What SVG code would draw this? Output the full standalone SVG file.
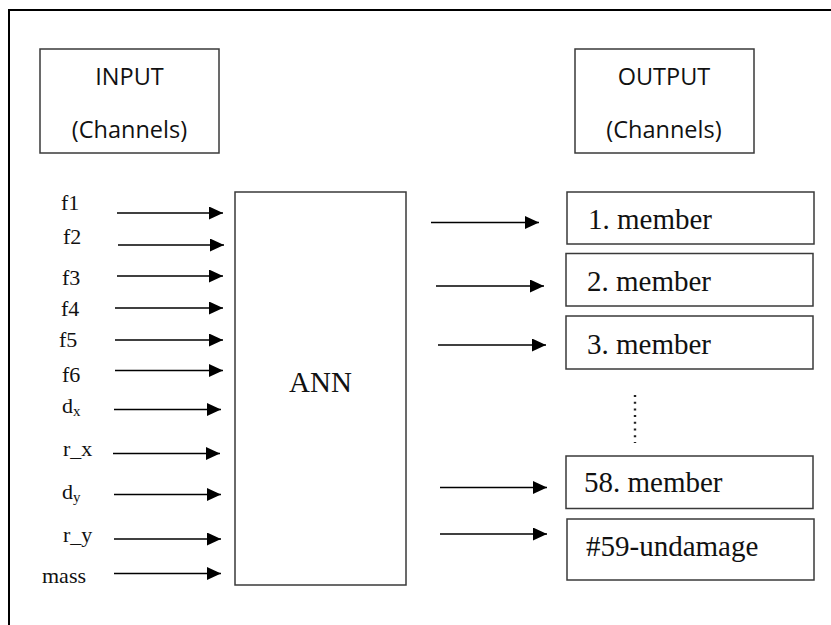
<svg xmlns="http://www.w3.org/2000/svg" width="831" height="625" viewBox="0 0 831 625">
<defs>
<marker id="ah" markerUnits="userSpaceOnUse" markerWidth="14" markerHeight="13" refX="14" refY="6.5" orient="auto">
<path d="M0,0 L14,6.5 L0,13 z" fill="#000"/>
</marker>
<style>
.box{fill:#fff;stroke:#3a3a3a;stroke-width:1.5}
.hdr{font-family:"Open Sans","Liberation Sans",sans-serif;font-size:23.5px;fill:#111;text-anchor:middle}
.lbl{font-family:"Liberation Serif","Times New Roman",serif;font-size:22px;fill:#111}
.out{font-family:"Liberation Serif","Times New Roman",serif;font-size:29px;fill:#111}
.ar{stroke:#000;stroke-width:1.6;fill:none;marker-end:url(#ah)}
</style>
</defs>
<rect width="831" height="625" fill="#fff"/>
<path d="M9,625 V10 H831" fill="none" stroke="#000" stroke-width="2"/>
<g id="input-header">
<rect class="box" x="40" y="49" width="179" height="104"/>
<text class="hdr" x="129.5" y="85">INPUT</text>
<text class="hdr" x="129.5" y="138">(Channels)</text>
</g>
<g id="output-header">
<rect class="box" x="575" y="49" width="179" height="104"/>
<text class="hdr" x="664" y="85">OUTPUT</text>
<text class="hdr" x="664" y="138">(Channels)</text>
</g>
<g id="ann">
<rect class="box" x="235" y="192" width="171" height="393"/>
<text class="out" x="320.5" y="392" text-anchor="middle">ANN</text>
</g>
<g id="input-labels">
<text class="lbl" x="61" y="210">f1</text>
<text class="lbl" x="63" y="244">f2</text>
<text class="lbl" x="62" y="285">f3</text>
<text class="lbl" x="61" y="316">f4</text>
<text class="lbl" x="59" y="347">f5</text>
<text class="lbl" x="62" y="382">f6</text>
<text class="lbl" x="62" y="413">d<tspan font-size="15" dy="3">x</tspan></text>
<text class="lbl" x="63" y="456">r_x</text>
<text class="lbl" x="62" y="499">d<tspan font-size="15" dy="3">y</tspan></text>
<text class="lbl" x="63" y="542">r_y</text>
<text class="lbl" x="42" y="583">mass</text>
</g>
<g id="out1"><rect class="box" x="567" y="192" width="247" height="52"/><text class="out" x="588" y="229">1. member</text></g>
<g id="out2"><rect class="box" x="566" y="253.5" width="247" height="52.5"/><text class="out" x="587" y="291">2. member</text></g>
<g id="out3"><rect class="box" x="566" y="316" width="247" height="53"/><text class="out" x="587" y="354">3. member</text></g>
<g id="ellipsis">
<line x1="635" y1="395" x2="635" y2="443" stroke="#222" stroke-width="2.4" stroke-dasharray="2,4.7"/>
</g>
<g id="out58"><rect class="box" x="566" y="456" width="247" height="52.5"/><text class="out" x="584" y="492">58. member</text></g>
<g id="out59"><rect class="box" x="567" y="519" width="247" height="61"/><text class="out" x="586" y="556">#59-undamage</text></g>
<g id="connectors">
<line class="ar" x1="117" y1="213" x2="223" y2="213"/>
<line class="ar" x1="118" y1="245" x2="224" y2="245"/>
<line class="ar" x1="117" y1="276" x2="223" y2="276"/>
<line class="ar" x1="115" y1="308" x2="223" y2="308"/>
<line class="ar" x1="115" y1="340" x2="223" y2="340"/>
<line class="ar" x1="115" y1="370.5" x2="223" y2="370.5"/>
<line class="ar" x1="114" y1="409.5" x2="221" y2="409.5"/>
<line class="ar" x1="113" y1="453.5" x2="220" y2="453.5"/>
<line class="ar" x1="114" y1="494.5" x2="221" y2="494.5"/>
<line class="ar" x1="114" y1="539" x2="221" y2="539"/>
<line class="ar" x1="114" y1="573.5" x2="221" y2="573.5"/>
<line class="ar" x1="431" y1="222.5" x2="539" y2="222.5"/>
<line class="ar" x1="436" y1="286" x2="544" y2="286"/>
<line class="ar" x1="438" y1="345" x2="546" y2="345"/>
<line class="ar" x1="440" y1="487.5" x2="547" y2="487.5"/>
<line class="ar" x1="440" y1="534" x2="547" y2="534"/>
</g>
</svg>
